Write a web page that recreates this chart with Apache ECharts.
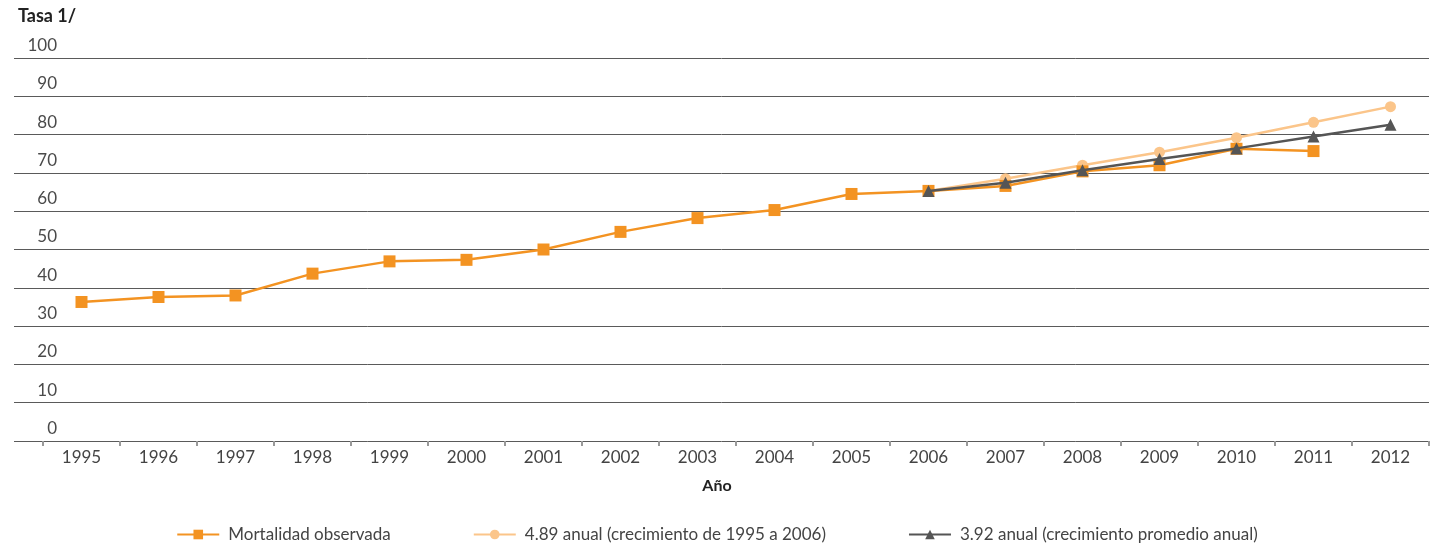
<!DOCTYPE html>
<html><head><meta charset="utf-8">
<script src="https://cdn.jsdelivr.net/npm/echarts@6/dist/echarts.min.js"></script>
<style>html,body{margin:0;padding:0;background:#fff}#c{width:1434px;height:548px}</style>
</head><body><div id="c"></div>
<script>
const years = ['1995','1996','1997','1998','1999','2000','2001','2002','2003','2004','2005','2006','2007','2008','2009','2010','2011','2012'];
const observada = [36.3,37.6,38.0,43.7,46.9,47.3,50.0,54.6,58.2,60.3,64.5,65.3,66.6,70.4,72.0,76.3,75.7,null];
const anual489 = [null,null,null,null,null,null,null,null,null,null,null,65.3,68.5,72.0,75.4,79.2,83.2,87.3];
const anual392 = [null,null,null,null,null,null,null,null,null,null,null,65.3,67.4,70.7,73.6,76.4,79.5,82.6];
const yTicks = [0,10,20,30,40,50,60,70,80,90,100];
const names = ['Mortalidad observada','4.89 anual (crecimiento de 1995 a 2006)','3.92 anual (crecimiento promedio anual)'];

const FONT = 'Lato';
const chart = echarts.init(document.getElementById('c'), null, {renderer:'canvas'});
chart.setOption({
  animation:false,
  textStyle:{fontFamily:FONT},
  title:[
    {text:'Tasa 1/', left:13, top:2, textStyle:{fontFamily:FONT,fontWeight:'bold',fontSize:18,color:'#222'}},
    {text:'Año', left:'center', top:473, textStyle:{fontFamily:FONT,fontWeight:'bold',fontSize:16,color:'#222'}}
  ],
  legend:{
    bottom:0, left:'center', itemWidth:42, itemHeight:12, itemGap:82,
    textStyle:{fontFamily:FONT,fontSize:17,color:'#444',padding:[0,0,0,4]},
    data:names
  },
  grid:[
    {left:14, right:5, top:58, bottom:107},
    {left:43, right:5, top:58, bottom:107}
  ],
  xAxis:[
    {gridIndex:0, type:'value', min:0, max:1, show:false},
    {gridIndex:1, type:'category', data:years, boundaryGap:true,
     axisLine:{show:false},
     axisTick:{show:true, length:5, lineStyle:{color:'#999',width:2}},
     axisLabel:{fontFamily:FONT,fontSize:17,color:'#444',margin:8}}
  ],
  yAxis:[
    {gridIndex:0, type:'value', min:0, max:100, interval:10,
     axisLine:{show:false}, axisTick:{show:false},
     splitLine:{show:true, lineStyle:{color:'#5a5a5a', width:1}},
     axisLabel:{fontFamily:FONT,fontSize:17,color:'#4a4a4a',margin:-43,verticalAlign:'bottom',padding:[0,0,4,0],
       formatter:function(v){return yTicks.indexOf(v)>=0?String(v):'';}}},
    {gridIndex:1, type:'value', min:0, max:100, interval:10, show:false, splitLine:{show:false}}
  ],
  series:[
    {name:names[0], type:'line', xAxisIndex:1, yAxisIndex:1, data:observada,
     symbol:'rect', symbolSize:12, color:'#F39322', lineStyle:{width:2.5,color:'#F39322'}, itemStyle:{color:'#F39322'}, z:3},
    {name:names[1], type:'line', xAxisIndex:1, yAxisIndex:1, data:anual489,
     symbol:'circle', symbolSize:11, color:'#FBC58A', lineStyle:{width:2.5,color:'#FBC58A'}, itemStyle:{color:'#FBC58A'}, z:2},
    {name:names[2], type:'line', xAxisIndex:1, yAxisIndex:1, data:anual392,
     symbol:'triangle', symbolSize:12, color:'#555555', lineStyle:{width:2.5,color:'#555555'}, itemStyle:{color:'#555555'}, z:4}
  ]
});
</script></body></html>
